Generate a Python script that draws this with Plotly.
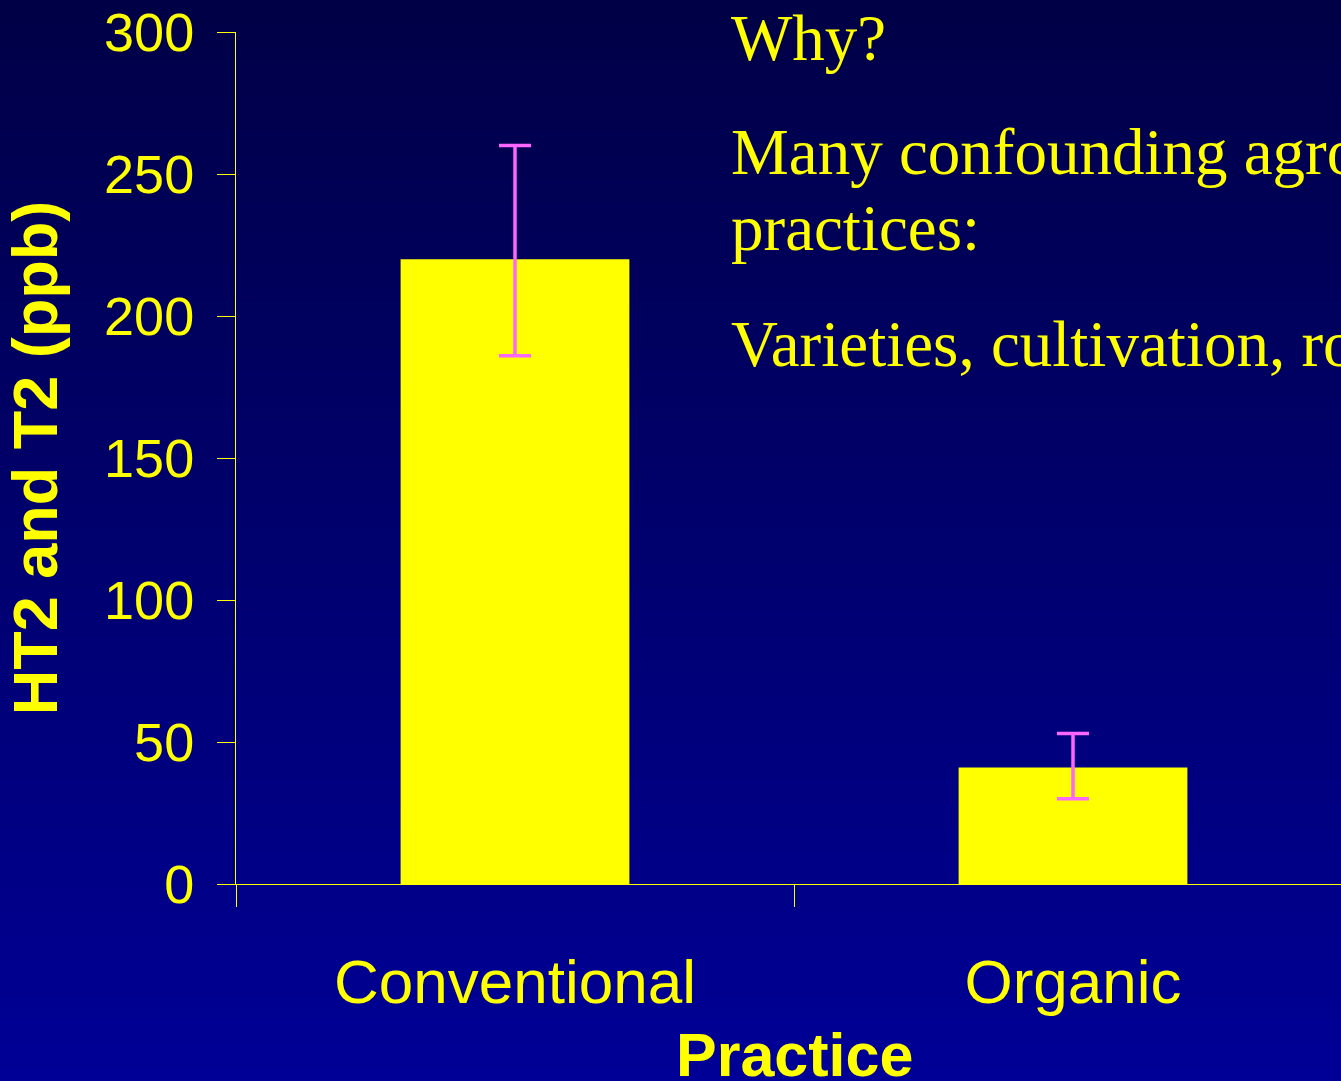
import plotly.graph_objects as go

# data
practices = ["Conventional", "Organic"]
ht2_t2 = [220, 41]
err_plus = [40, 12]
err_minus = [34, 11]

notes = ["Why?", "Many confounding agronomic", "practices:", "Varieties, cultivation, rotation"]

W, H = 1341, 1081
ml, mr, mt, mb = 236, 0, 32, 197
pw, ph = W - ml - mr, H - mt - mb

YEL = "#FFFF00"

fig = go.Figure()

fig.add_trace(
    go.Bar(
        x=practices,
        y=ht2_t2,
        width=0.41,
        marker=dict(color=YEL, line=dict(width=0)),
        error_y=dict(
            type="data",
            symmetric=False,
            array=err_plus,
            arrayminus=err_minus,
            color="#FF66FF",
            thickness=3.5,
            width=16,
        ),
        showlegend=False,
    )
)

# background gradient (dark navy at top -> blue at bottom)
shapes = []
n = 90
top_rgb = (0, 0, 0x46)
bot_rgb = (0, 0, 0x96)
for i in range(n):
    y0px = H * i / n
    y1px = H * (i + 1) / n
    t = (i + 0.5) / n
    c = tuple(int(round(a + (b - a) * t)) for a, b in zip(top_rgb, bot_rgb))
    shapes.append(dict(
        type="rect", xref="paper", yref="paper", layer="below",
        x0=(0 - ml) / pw, x1=1.01,
        y0=(H - mb - y1px) / ph - 0.001, y1=(H - mb - y0px) / ph + 0.001,
        fillcolor="rgb(%d,%d,%d)" % c, line=dict(width=0),
    ))

# text on the right
note_y = [62, 176, 252, 368]  # baselines in px
annotations = []
for txt, yb in zip(notes, note_y):
    annotations.append(dict(
        text=txt, xref="paper", yref="paper",
        x=(729 - ml) / pw, y=(H - mb - yb) / ph,
        xanchor="left", yanchor="bottom", showarrow=False,
        yshift=-14,
        font=dict(family="Liberation Serif, Times New Roman, serif", size=65, color=YEL),
    ))

# x axis title, placed low so it is cut by the bottom edge like the original
annotations.append(dict(
    text="<b>Practice</b>", xref="paper", yref="paper",
    x=(794 - ml) / pw, y=(H - mb - 1078) / ph,
    xanchor="center", yanchor="bottom", showarrow=False,
    yshift=-13,
    font=dict(family="Liberation Sans, Arial, sans-serif", size=61, color=YEL),
))

fig.update_layout(
    width=W, height=H,
    margin=dict(l=ml, r=mr, t=mt, b=mb, pad=0),
    paper_bgcolor="#000070",
    plot_bgcolor="rgba(0,0,0,0)",
    shapes=shapes,
    annotations=annotations,
    font=dict(family="Liberation Sans, Arial, sans-serif", color=YEL),
)

fig.update_xaxes(
    range=[-0.5, -0.5 + pw / 558],
    tickson="boundaries",
    ticks="outside", ticklen=22, tickwidth=1, tickcolor=YEL,
    showline=True, linecolor=YEL, linewidth=1,
    showgrid=False, zeroline=False,
    tickfont=dict(size=62, color=YEL),
    ticklabelstandoff=44,
    automargin=False,
)

fig.update_yaxes(
    range=[0, 300], dtick=50,
    ticks="outside", ticklen=18, tickwidth=1, tickcolor=YEL,
    showline=True, linecolor=YEL, linewidth=1,
    showgrid=False, zeroline=False,
    tickfont=dict(size=54, color=YEL),
    ticklabelstandoff=12,
    title=dict(text="<b>HT2 and T2 (ppb)</b>", font=dict(size=63, color=YEL), standoff=30),
    automargin=False,
)

fig.write_html(
    "out.html",
    config={"displayModeBar": False},
    post_script="document.body.style.margin='0';document.body.style.overflow='hidden';",
)
